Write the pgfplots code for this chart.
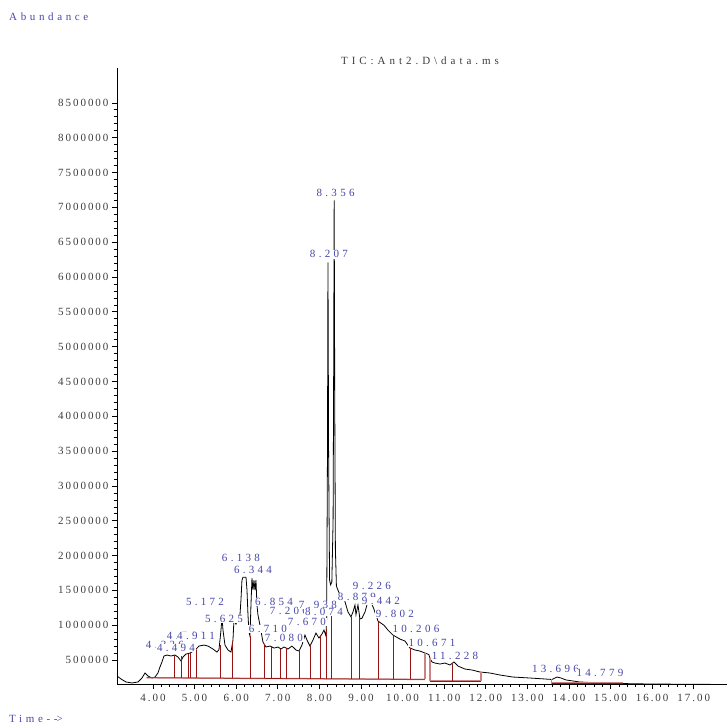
\documentclass[border=0pt]{standalone}
\usepackage{fontspec}
\setmainfont{Liberation Serif}[LetterSpace=18]
\newfontfamily\lblfont{Liberation Serif}[LetterSpace=30]
\newfontfamily\ttlfont{Liberation Serif}[LetterSpace=36]
\newfontfamily\abfont{Liberation Serif}[LetterSpace=33]
\usepackage{pgfplots}
\pgfplotsset{compat=1.18}
\definecolor{lblue}{RGB}{70,70,170}
\definecolor{tgray}{RGB}{60,60,60}
\definecolor{dred}{RGB}{150,20,20}
\definecolor{pred}{RGB}{205,130,130}
\begin{document}
\begin{tikzpicture}[lab/.style={fill=white,inner sep=0.6pt,text=lblue,font=\lblfont\fontsize{11}{11}\selectfont}]
\begin{axis}[
  at={(117pt,42pt)}, anchor=south west,
  scale only axis, width=610pt, height=616pt,
  xmin=3.135, xmax=17.80, ymin=156000, ymax=9000000,
  axis lines*=left,
  axis line style={black, line width=0.8pt},
  xtick={4,5,...,17}, minor x tick num=4,
  ytick={500000,1000000,...,8500000}, minor y tick num=4,
  scaled y ticks=false, scaled x ticks=false,
  tick align=outside,
  major tick length=5pt, minor tick length=3pt,
  tick style={black, line width=0.6pt},
  /pgf/number format/assume math mode=true,
  xticklabel={\pgfmathprintnumber[fixed,fixed zerofill,precision=2]{\tick}},
  yticklabel={\pgfmathprintnumber[fixed,precision=0,1000 sep={}]{\tick}},
  ticklabel style={text=tgray, font=\fontsize{11}{11}\selectfont},
  xticklabel style={yshift=-2pt},
  clip=true,
]
% total ion chromatogram
\addplot[black, line width=0.8pt] coordinates {
(3.135,271e3) (3.231,228e3) (3.351,185e3) (3.495,171e3) (3.639,185e3) (3.736,242e3)
(3.808,314e3) (3.880,271e3) (3.976,242e3) (4.048,256e3) (4.120,314e3) (4.168,400e3)
(4.216,472e3) (4.264,558e3) (4.337,572e3) (4.433,558e3) (4.529,572e3) (4.601,543e3)
(4.673,486e3) (4.721,543e3) (4.793,586e3) (4.889,600e3) (5.010,640e3) (5.106,701e3)
(5.226,715e3) (5.322,701e3) (5.442,658e3) (5.538,615e3) (5.587,650e3) (5.635,930e3)
(5.659,1117e3) (5.683,930e3) (5.731,715e3) (5.803,644e3) (5.875,615e3) (5.923,787e3)
(5.947,1074e3) (5.995,1016e3) (6.043,1103e3) (6.091,1146e3) (6.115,1361e3) (6.139,1647e3)
(6.163,1690e3) (6.236,1690e3) (6.260,1504e3) (6.284,1146e3) (6.308,900e3) (6.332,844e3)
(6.356,1300e3) (6.380,1676e3) (6.404,1504e3) (6.428,1647e3) (6.452,1504e3) (6.476,1647e3)
(6.500,1289e3) (6.524,1146e3) (6.572,1002e3) (6.644,758e3) (6.716,687e3) (6.813,701e3)
(6.909,672e3) (7.005,687e3) (7.077,658e3) (7.149,687e3) (7.245,658e3) (7.341,701e3)
(7.438,644e3) (7.510,629e3) (7.582,715e3) (7.654,859e3) (7.702,787e3) (7.774,701e3)
(7.846,787e3) (7.918,887e3) (7.990,816e3) (8.063,873e3) (8.111,930e3) (8.159,844e3)
(8.175,1100e3) (8.195,3500e3) (8.207,6210e3) (8.222,3500e3) (8.245,1650e3) (8.27,1580e3)
(8.30,1620e3) (8.330,2500e3) (8.343,4500e3) (8.356,7100e3) (8.370,4200e3) (8.385,2100e3)
(8.41,1560e3) (8.45,1500e3) (8.52,1400e3) (8.59,1390e3) (8.688,1190e3) (8.76,1120e3)
(8.808,1190e3) (8.856,1290e3) (8.880,1150e3) (8.928,1290e3) (8.976,1090e3) (9.024,1100e3)
(9.096,1190e3) (9.144,1290e3) (9.216,1360e3) (9.30,1250e3) (9.409,1060e3) (9.553,1000e3)
(9.649,930e3) (9.769,859e3) (9.938,801e3) (10.058,773e3) (10.178,672e3) (10.298,644e3)
(10.418,629e3) (10.538,601e3) (10.630,580e3) (10.659,530e3) (10.707,472e3) (10.779,457e3)
(10.899,443e3) (11.019,457e3) (11.139,429e3) (11.236,472e3) (11.332,414e3) (11.500,371e3)
(11.668,357e3) (11.861,328e3) (12.101,314e3) (12.341,285e3) (12.654,256e3) (13.063,242e3)
(13.423,228e3) (13.590,221e3) (13.712,256e3) (13.810,242e3) (13.930,214e3) (14.260,185e3)
(14.745,171e3) (15.226,163e3) (15.947,156e3) (16.910,152e3) (17.800,149e3)
};
% integration baselines
\addplot[pred, line width=1.4pt] coordinates {(3.85,246e3) (10.538,222e3)};
\addplot[dred, line width=0.6pt] coordinates {(3.85,246e3) (10.538,222e3)};
\addplot[pred, line width=1.4pt] coordinates {(10.659,199e3) (11.885,199e3)};
\addplot[dred, line width=0.6pt] coordinates {(10.659,199e3) (11.885,199e3)};
\addplot[pred, line width=1.2pt] coordinates {(13.59,221e3) (13.59,171e3) (15.30,171e3)};
\addplot[dred, line width=0.6pt] coordinates {(13.59,171e3) (15.30,171e3)};
% drop lines at peak boundaries
\addplot[dred, line width=0.8pt, unbounded coords=jump] coordinates {
(4.512,244e3) (4.512,572e3) (4.512,nan)
(4.690,244e3) (4.690,558e3) (4.690,nan)
(4.849,243e3) (4.849,590e3) (4.849,nan)
(4.889,243e3) (4.889,600e3) (4.889,nan)
(5.034,243e3) (5.034,645e3) (5.034,nan)
(5.611,240e3) (5.611,720e3) (5.611,nan)
(5.916,239e3) (5.916,760e3) (5.916,nan)
(6.332,238e3) (6.332,844e3) (6.332,nan)
(6.668,237e3) (6.668,730e3) (6.668,nan)
(6.853,236e3) (6.853,691e3) (6.853,nan)
(7.070,235e3) (7.070,660e3) (7.070,nan)
(7.197,235e3) (7.197,670e3) (7.197,nan)
(7.517,234e3) (7.517,640e3) (7.517,nan)
(7.791,232e3) (7.791,720e3) (7.791,nan)
(8.031,232e3) (8.031,840e3) (8.031,nan)
(8.170,231e3) (8.170,950e3) (8.170,nan)
(8.300,229e3) (8.300,1300e3) (8.300,nan)
(8.777,227e3) (8.777,1121e3) (8.777,nan)
(8.952,227e3) (8.952,1121e3) (8.952,nan)
(9.416,225e3) (9.416,1049e3) (9.416,nan)
(9.777,224e3) (9.777,859e3) (9.777,nan)
(10.178,222e3) (10.178,672e3) (10.178,nan)
(11.204,199e3) (11.204,440e3)
};
\addplot[pred, line width=1.3pt, unbounded coords=jump] coordinates {
(10.538,222e3) (10.538,601e3) (10.538,nan)
(10.659,199e3) (10.659,530e3) (10.659,nan)
(11.885,199e3) (11.885,326e3)
};
% peak labels
\node[lab] at (axis cs:4.288,715e3) {4.326};
\node[lab] at (axis cs:4.553,672e3) {4.494};
\node[lab] at (axis cs:4.793,844e3) {4.769};
\node[lab] at (axis cs:5.034,844e3) {4.911};
\node[lab] at (axis cs:5.250,1332e3) {5.172};
\node[lab] at (axis cs:5.707,1088e3) {5.625};
\node[lab] at (axis cs:6.115,1963e3) {6.138};
\node[lab] at (axis cs:6.404,1791e3) {6.344};
\node[lab] at (axis cs:6.909,1332e3) {6.854};
\node[lab] at (axis cs:6.764,945e3) {6.710};
\node[lab] at (axis cs:7.149,816e3) {7.080};
\node[lab] at (axis cs:7.269,1203e3) {7.206};
\node[lab] at (axis cs:7.702,1045e3) {7.670};
\node[lab] at (axis cs:7.966,1289e3) {7.938};
\node[lab] at (axis cs:8.111,1189e3) {8.074};
\node[lab] at (axis cs:8.23,6325e3) {8.207};
\node[lab] at (axis cs:8.39,7210e3) {8.356};
\node[lab] at (axis cs:8.904,1404e3) {8.879};
\node[lab] at (axis cs:9.48,1346e3) {9.442};
\node[lab] at (axis cs:9.264,1561e3) {9.226};
\node[lab] at (axis cs:9.817,1160e3) {9.802};
\node[lab] at (axis cs:10.322,945e3) {10.206};
\node[lab] at (axis cs:10.707,744e3) {10.671};
\node[lab] at (axis cs:11.260,558e3) {11.228};
\node[lab] at (axis cs:13.675,371e3) {13.696};
\node[lab] at (axis cs:14.745,314e3) {14.779};
\end{axis}
\node[anchor=west, text=lblue, font=\abfont\fontsize{11}{11}\selectfont, inner sep=0pt] at (9pt,709pt) {Abundance};
\node[anchor=west, text=lblue, font=\abfont\fontsize{11}{11}\selectfont, inner sep=0pt] at (9pt,7pt) {Time--\kern-1pt>};
\node[text=tgray, font=\ttlfont\fontsize{11}{11}\selectfont, inner sep=0pt] at (420pt,665pt) {TIC:Ant2.D\textbackslash data.ms};
\pgfresetboundingbox
\path (0pt,0pt) rectangle (727pt,726pt);
\end{tikzpicture}
\end{document}
